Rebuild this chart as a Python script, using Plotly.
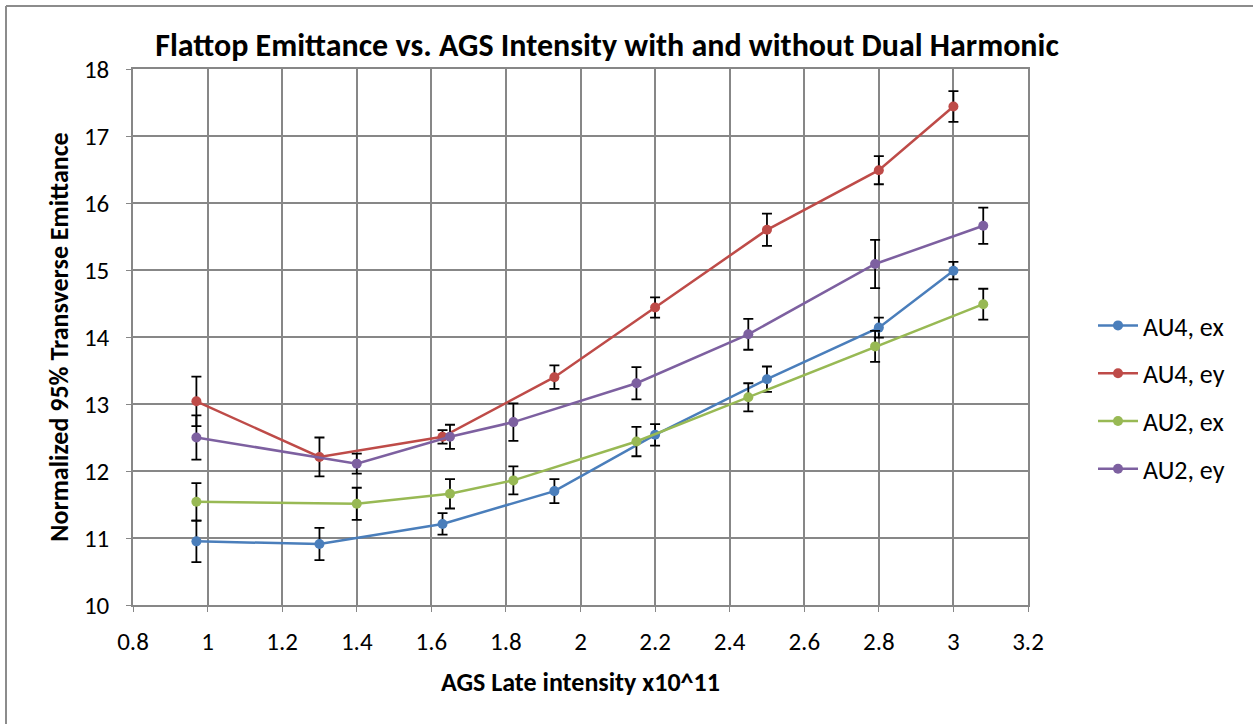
import plotly.graph_objects as go

# AGS late intensity (x10^11) for each run set
au4_x = [0.97, 1.30, 1.63, 1.93, 2.20, 2.50, 2.80, 3.00]
au2_x = [0.97, 1.40, 1.65, 1.82, 2.15, 2.45, 2.79, 3.08]

# Normalized 95% transverse emittance and uncertainties
au4_ex = [10.95, 10.91, 11.21, 11.70, 12.54, 13.37, 14.14, 14.99]
au4_ex_err = [0.31, 0.24, 0.16, 0.18, 0.16, 0.19, 0.15, 0.13]

au4_ey = [13.04, 12.21, 12.51, 13.40, 14.44, 15.60, 16.49, 17.44]
au4_ey_err = [0.37, 0.29, 0.10, 0.175, 0.15, 0.24, 0.21, 0.23]

au2_ex = [11.54, 11.51, 11.66, 11.86, 12.44, 13.10, 13.86, 14.49]
au2_ex_err = [0.28, 0.24, 0.22, 0.21, 0.22, 0.21, 0.23, 0.23]

au2_ey = [12.50, 12.11, 12.51, 12.73, 13.31, 14.04, 15.09, 15.66]
au2_ey_err = [0.33, 0.15, 0.18, 0.28, 0.24, 0.23, 0.36, 0.27]

x_ticks = [0.8, 1, 1.2, 1.4, 1.6, 1.8, 2, 2.2, 2.4, 2.6, 2.8, 3, 3.2]
y_ticks = [10, 11, 12, 13, 14, 15, 16, 17, 18]

FONT = "Carlito, Calibri, 'Liberation Sans Narrow', 'Open Sans', sans-serif"

series = [
    ("AU4, ex", au4_x, au4_ex, au4_ex_err, "#4A7EBB"),
    ("AU4, ey", au4_x, au4_ey, au4_ey_err, "#BE4B48"),
    ("AU2, ex", au2_x, au2_ex, au2_ex_err, "#98B954"),
    ("AU2, ey", au2_x, au2_ey, au2_ey_err, "#7D60A0"),
]

fig = go.Figure()
for i, (name, xs, ys, errs, color) in enumerate(series):
    fig.add_trace(go.Scatter(
        x=xs, y=ys, name=name, mode="lines+markers",
        legendgroup=f"g{i}",
        line=dict(color=color, width=2.5),
        marker=dict(color=color, size=10),
        error_y=dict(type="data", array=errs, visible=True,
                     color="black", thickness=1.8, width=5),
    ))

L, R, T, B = 133, 225, 69, 119
W, H = 1253, 724
pw, ph = W - L - R, H - T - B

def px_x(v):
    return (v - L) / pw

def px_y(v):
    return (H - B - v) / ph

grid = "#878787"
fig.update_layout(
    width=W, height=H,
    margin=dict(l=L, r=R, t=T, b=B, pad=0),
    paper_bgcolor="white", plot_bgcolor="white",
    font=dict(family=FONT, size=25, color="black"),
    title=dict(
        text="<b>Flattop Emittance vs. AGS Intensity with and without Dual Harmonic</b>",
        x=607 / W, xanchor="center", xref="container",
        y=1 - 45 / H, yanchor="middle", yref="container",
        font=dict(family=FONT, size=32, color="black"),
    ),
    xaxis=dict(
        range=[0.8, 3.2], tickvals=x_ticks, ticktext=[f"{t:g}" for t in x_ticks],
        showgrid=True, gridcolor=grid, gridwidth=1.5,
        showline=True, linecolor=grid, linewidth=1.5, mirror=True,
        ticks="outside", ticklen=5, tickcolor=grid,
        ticklabelstandoff=8,
        zeroline=False,
        title=dict(text="<b>AGS Late intensity x10^11</b>", standoff=17,
                   font=dict(family=FONT, size=26)),
        tickfont=dict(family=FONT, size=25),
    ),
    yaxis=dict(
        range=[10, 18], tickvals=y_ticks,
        showgrid=True, gridcolor=grid, gridwidth=1.5,
        showline=True, linecolor=grid, linewidth=1.5, mirror=True,
        ticks="outside", ticklen=5, tickcolor=grid,
        ticklabelstandoff=12,
        zeroline=False,
        title=dict(text="<b>Normalized 95% Transverse Emittance</b>", standoff=8,
                   font=dict(family=FONT, size=26)),
        tickfont=dict(family=FONT, size=25),
    ),
    legend=dict(
        x=1093 / W, xref="container", xanchor="left",
        y=1 - 302 / H, yref="container", yanchor="top",
        traceorder="grouped", tracegroupgap=11,
        font=dict(family=FONT, size=26),
        bgcolor="rgba(0,0,0,0)", itemwidth=40,
    ),
    showlegend=True,
)

# Outer chart frame (top and left edges visible)
frame = dict(color="#8c8c8c", width=2)
fig.add_shape(type="line", xref="paper", yref="paper",
              x0=px_x(6), x1=px_x(W + 5), y0=px_y(6), y1=px_y(6), line=frame)
fig.add_shape(type="line", xref="paper", yref="paper",
              x0=px_x(6), x1=px_x(6), y0=px_y(6), y1=px_y(H + 5), line=frame)

fig.write_html("out.html")
